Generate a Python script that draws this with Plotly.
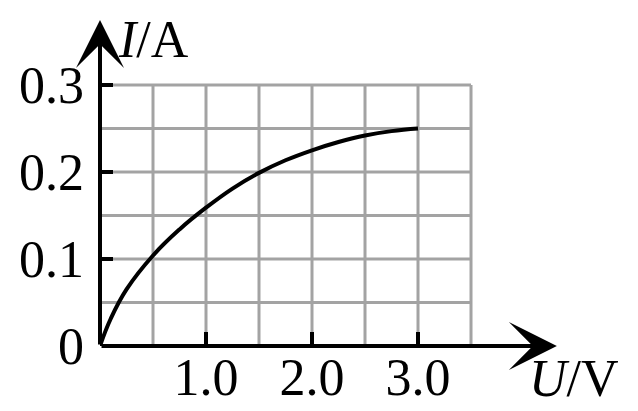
import plotly.graph_objects as go

# I-U curve
u_values = [0, 0.1, 0.25, 0.5, 0.75, 1.0, 1.25, 1.5, 1.75, 2.0, 2.25, 2.5, 2.75, 3.0]
i_values = [0, 0.031, 0.065, 0.104, 0.134, 0.159, 0.181, 0.199, 0.2135, 0.225, 0.2345, 0.242, 0.247, 0.25]

# grid and ticks
grid_u = [0.5, 1.0, 1.5, 2.0, 2.5, 3.0, 3.5]
grid_i = [0.05, 0.1, 0.15, 0.2, 0.25, 0.3]
u_ticks = [1, 2, 3]
u_ticktext = ['1.0', '2.0', '3.0']
i_ticks = [0, 0.1, 0.2, 0.3]
i_ticktext = ['0', '0.1', '0.2', '0.3']

FONT = 'Liberation Serif'
GRID = '#a3a3a3'

fig = go.Figure()

# grid only covers 0..3.5 by 0..0.3
for u in grid_u:
    fig.add_shape(type='line', x0=u, x1=u, y0=0, y1=max(grid_i),
                  line=dict(color=GRID, width=3), layer='below')
for i in grid_i:
    fig.add_shape(type='line', x0=0, x1=max(grid_u), y0=i, y1=i,
                  line=dict(color=GRID, width=3), layer='below')

fig.add_trace(go.Scatter(
    x=u_values, y=i_values, mode='lines',
    line=dict(color='black', width=4, shape='spline', smoothing=1.2),
    hoverinfo='skip', showlegend=False
))

# axes with arrow heads
for tip in [(4.31, 0), (0, 0.3747)]:
    fig.add_annotation(x=tip[0], y=tip[1], ax=0, ay=0, xref='x', yref='y',
                       axref='x', ayref='y', text='', showarrow=True,
                       arrowhead=3, arrowsize=2.0, arrowwidth=4,
                       arrowcolor='black', standoff=0)

# axis names
fig.add_annotation(x=0, y=0.3747, xref='x', yref='y', text='<i>I</i>/A', showarrow=False,
                   xanchor='left', yanchor='middle', xshift=16, yshift=-19,
                   font=dict(family=FONT, size=52, color='black'))
fig.add_annotation(x=4.31, y=0, xref='x', yref='y', text='<i>U</i>/V', showarrow=False,
                   xanchor='left', yanchor='middle', xshift=-30, yshift=-32,
                   font=dict(family=FONT, size=52, color='black'))

fig.update_xaxes(range=[0, 4.415], tickvals=u_ticks, ticktext=u_ticktext,
                 ticks='inside', ticklen=14, tickwidth=3.5, tickcolor='black',
                 showgrid=False, zeroline=False, showline=False, automargin=False,
                 tickfont=dict(family=FONT, size=52, color='black'),
                 ticklabelstandoff=-4)
fig.update_yaxes(range=[0, 0.3805], tickvals=i_ticks, ticktext=i_ticktext,
                 ticks='inside', ticklen=13, tickwidth=3.5, tickcolor='black',
                 showgrid=False, zeroline=False, showline=False, automargin=False,
                 tickfont=dict(family=FONT, size=52, color='black'),
                 ticklabelstandoff=15)

fig.update_layout(
    width=638, height=411,
    margin=dict(l=100, r=70, t=15, b=65),
    plot_bgcolor='white', paper_bgcolor='white',
    showlegend=False
)

# drop the page's default body margin so the figure sits at the top-left corner
fig.write_html('out.html', config={'displayModeBar': False},
               post_script="document.body.style.margin='0';")
